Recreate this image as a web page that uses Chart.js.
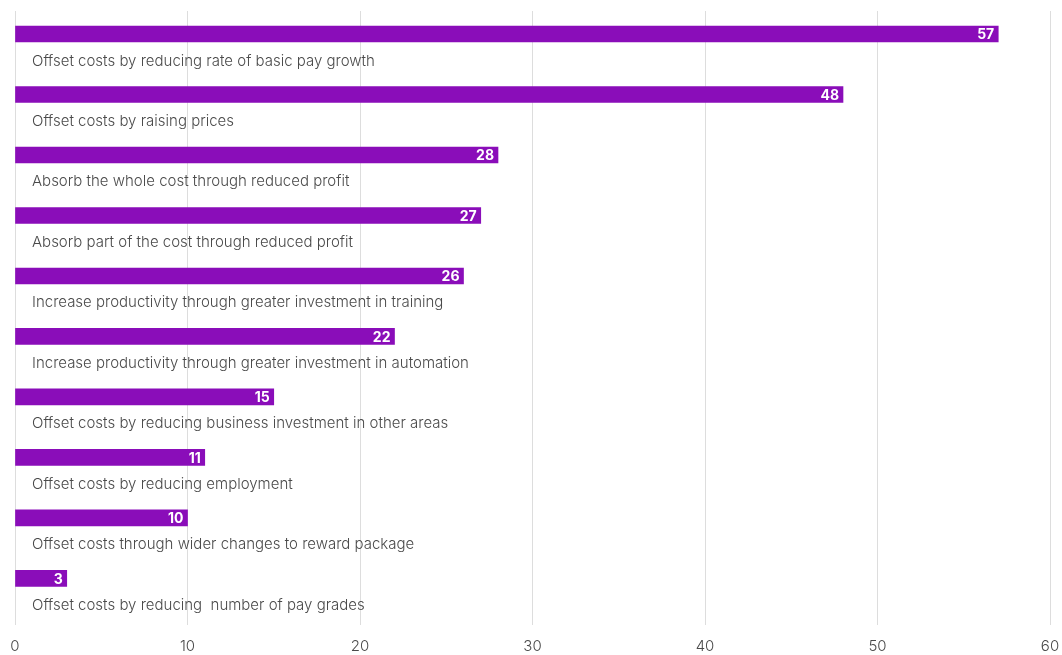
<!DOCTYPE html>
<html>
<head>
<meta charset="utf-8">
<script src="https://cdn.jsdelivr.net/npm/chart.js@4/dist/chart.umd.min.js"></script>
<style>
  html, body { margin: 0; padding: 0; background: #fff; }
  #wrap { width: 1062px; height: 655px; }
</style>
</head>
<body>
<div id="wrap"><canvas id="chart" width="1062" height="655"></canvas></div>
<script>
// --- responses, in the order they are listed ---
const categories = [
    'Offset costs by reducing rate of basic pay growth',
    'Offset costs by raising prices',
    'Absorb the whole cost through reduced profit',
    'Absorb part of the cost through reduced profit',
    'Increase productivity through greater investment in training',
    'Increase productivity through greater investment in automation',
    'Offset costs by reducing business investment in other areas',
    'Offset costs by reducing employment',
    'Offset costs through wider changes to reward package',
    'Offset costs by reducing  number of pay grades'
];
const shares = [57, 48, 28, 27, 26, 22, 15, 11, 10, 3];
const xTicks = [0, 10, 20, 30, 40, 50, 60];

const BAR_COLOR = '#8a0db9';
const TEXT_COLOR = '#4a4a4a';
const FONT = 'Inter, "Open Sans", sans-serif';

// value label inside the bar end, category label just below each bar
const barLabels = {
    id: 'barLabels',
    afterDatasetsDraw(chart) {
        const ctx = chart.ctx;
        const meta = chart.getDatasetMeta(0);
        const left = chart.chartArea.left;
        ctx.save();
        meta.data.forEach((bar, i) => {
            ctx.textBaseline = 'middle';
            ctx.textAlign = 'right';
            ctx.fillStyle = '#ffffff';
            ctx.font = 'bold 14px ' + FONT;
            ctx.fillText(String(shares[i]), bar.x - 4, bar.y + 1);

            ctx.textAlign = 'left';
            ctx.fillStyle = TEXT_COLOR;
            ctx.font = '300 15px ' + FONT;
            ctx.fillText(categories[i], left + 17, bar.y + 27);
        });
        ctx.restore();
    }
};

const ctx = document.getElementById('chart').getContext('2d');
new Chart(ctx, {
    type: 'bar',
    data: {
        datasets: [{
            data: shares.map((v, i) => ({ x: v, y: i })),
            backgroundColor: BAR_COLOR,
            borderWidth: 0,
            barThickness: 16
        }]
    },
    options: {
        indexAxis: 'y',
        responsive: false,
        animation: false,
        layout: { padding: { left: 15, right: 12, top: 11, bottom: 0 } },
        scales: {
            x: {
                type: 'linear',
                min: 0,
                max: 60,
                afterBuildTicks: axis => { axis.ticks = xTicks.map(v => ({ value: v })); },
                afterFit: axis => {
                    axis.height = 30;
                    axis.paddingLeft = 0;
                    axis.paddingRight = 0;
                    axis.paddingTop = 0;
                    axis.paddingBottom = 0;
                },
                border: { display: false },
                grid: { color: '#dddddd', lineWidth: 1, drawTicks: false },
                ticks: { color: TEXT_COLOR, font: { family: FONT, size: 15, weight: 300 }, padding: 12 }
            },
            y: {
                type: 'linear',
                display: false,
                reverse: true,
                offset: false,
                min: -0.38,
                max: 9.77
            }
        },
        plugins: {
            legend: { display: false },
            tooltip: { enabled: false }
        }
    },
    plugins: [barLabels]
});
</script>
</body>
</html>
